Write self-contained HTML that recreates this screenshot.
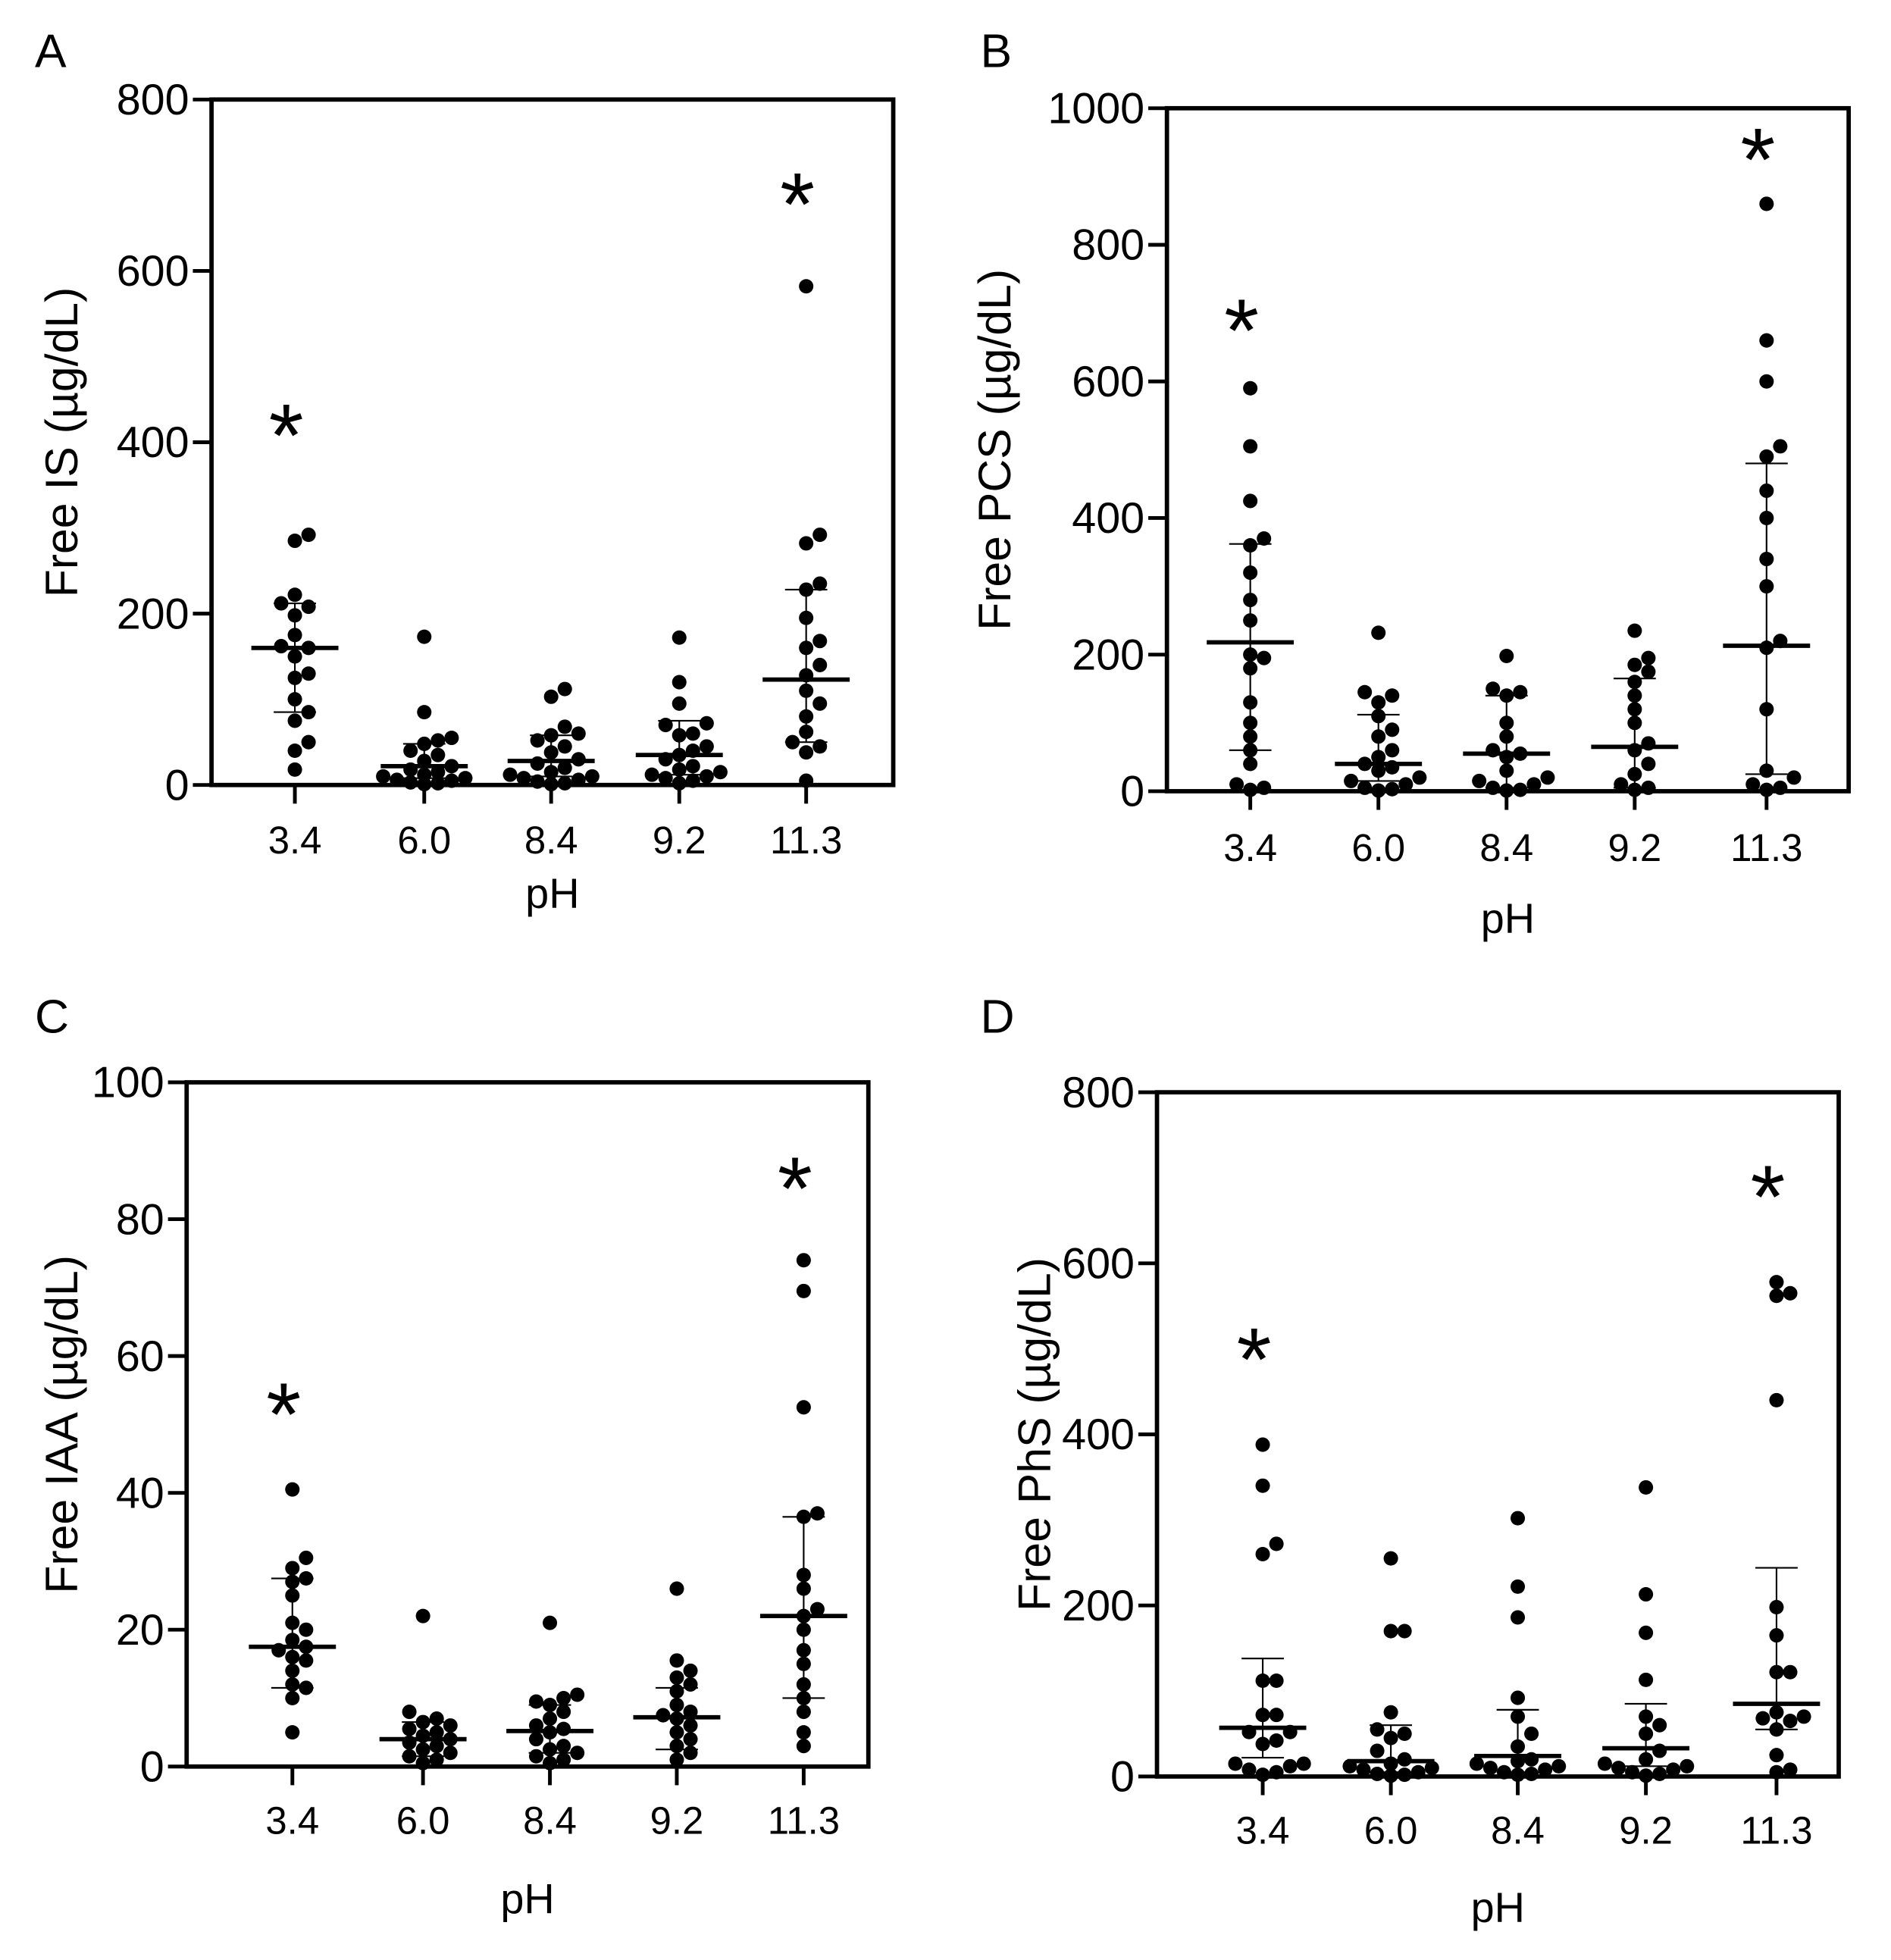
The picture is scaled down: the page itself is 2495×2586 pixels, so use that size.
<!DOCTYPE html>
<html><head><meta charset="utf-8"><style>
html,body{margin:0;padding:0;background:#fff;}
svg{display:block;}
text{font-family:"Liberation Sans",Arial,sans-serif;fill:#000;}
</style></head><body>
<svg id="s" xmlns="http://www.w3.org/2000/svg" width="2495" height="2586" viewBox="0 0 1520 1575.5">
<rect width="1520" height="1575.5" fill="#fff"/>
</svg>
<script>
var S=document.getElementById('s'),NS='http://www.w3.org/2000/svg';
function el(t,a,txt){var e=document.createElementNS(NS,t);for(var k in a)e.setAttribute(k,a[k]);if(txt!=null)e.textContent=txt;S.appendChild(e);return e;}
var panels=[
{L:'A',lx:28,ly:54,x0:170,x1:718,y0:80,y1:631,max:800,step:200,ylab:'Free IS (\u00b5g/dL)',ylx:62,xs:[237,341,443,546,648],tly:686,phy:730,
 g:[{v:[292,285,222,212,208,198,175,160,162,150,130,125,100,85,75,50,40,18],m:160,e:[85,212],a:420},
 {v:[173,85,55,52,48,40,35,28,22,18,15,12,10,8,6,5,3,2,1],m:22,e:[8,48]},
 {v:[112,103,68,60,58,52,45,38,30,25,20,15,12,10,8,6,4,2,1],m:28,e:[10,58]},
 {v:[172,120,95,72,70,60,58,45,40,35,30,22,18,15,12,10,8,5,2],m:35,e:[12,75]},
 {v:[582,292,282,235,228,195,168,160,140,128,110,95,80,62,50,45,38,5],m:123,e:[50,228],a:690}]},
{L:'B',lx:788,ly:54,x0:938,x1:1486,y0:87,y1:636,max:1000,step:200,ylab:'Free PCS (\u00b5g/dL)',ylx:812,xs:[1005,1108,1211,1314,1420],tly:692,phy:750,
 g:[{v:[590,505,425,370,360,320,280,250,200,195,180,130,100,80,60,40,10,5,2],m:218,e:[60,362],a:690},
 {v:[232,145,140,130,110,90,80,60,50,40,35,30,20,15,10,5,3,1],m:40,e:[15,112]},
 {v:[198,150,145,140,100,80,60,55,50,30,20,15,10,5,2,1],m:55,e:[5,140]},
 {v:[235,195,185,175,160,140,120,100,70,60,40,25,10,5,2],m:65,e:[5,165]},
 {v:[860,660,600,505,490,440,400,340,300,220,210,120,30,20,10,5,2],m:213,e:[25,480],a:940}]},
{L:'C',lx:28,ly:830,x0:150,x1:698,y0:870,y1:1420,max:100,step:20,ylab:'Free IAA (\u00b5g/dL)',ylx:62,xs:[235,340,442,544,646],tly:1474,phy:1538,
 g:[{v:[40.5,30.5,29,27.5,27,25,21,20,18.5,17.5,17,16,15.5,14,12,11.5,10,5],m:17.5,e:[11.5,27.5],a:53},
 {v:[22,8,7,6.5,6,5.5,5,4.5,4,3.5,3,2.5,2,1.5,1,0.5],m:4,e:[1.5,6.5]},
 {v:[21,10.5,10,9.5,9,8,7,6,5.5,5,4,3,2.5,2,1.5,1,0.5],m:5.2,e:[2,9]},
 {v:[26,15.5,14,13,12,11,9,8,7.5,7,6,5,4,3,2,1],m:7.2,e:[2.5,11.5]},
 {v:[74,69.5,52.5,37,36.5,28,26,23,22,20,17,15,12,10,8,5,3],m:22,e:[10,36.5],a:86}]},
{L:'D',lx:788,ly:830,x0:930,x1:1478,y0:878,y1:1428,max:800,step:200,ylab:'Free PhS (\u00b5g/dL)',ylx:844,xs:[1015,1118,1220,1323,1428],tly:1482,phy:1545,
 g:[{v:[388,340,272,260,112,112,72,72,52,52,42,38,15,15,12,8,5,2],m:57,e:[22,138],a:500},
 {v:[255,170,170,75,55,50,45,30,20,15,12,10,8,5,3,2,1],m:18,e:[5,60]},
 {v:[302,222,186,92,70,50,35,20,18,15,12,10,8,5,3,2],m:24,e:[5,78]},
 {v:[338,213,168,113,70,60,50,30,20,15,12,10,8,5,3,1],m:33,e:[12,85]},
 {v:[578,565,562,440,198,165,122,122,75,70,68,65,55,25,8,5],m:85,e:[55,244],a:690}]}
];
var labs=['3.4','6.0','8.4','9.2','11.3'];
panels.forEach(function(p){
 var Y=function(v){return p.y1-(v/p.max)*(p.y1-p.y0);};
 el('text',{x:p.lx,y:p.ly,'font-size':38},p.L);
 for(var t=0;t<=p.max+1e-9;t+=p.step){var y=Y(t);
  el('line',{x1:p.x0-15,x2:p.x0,y1:y,y2:y,stroke:'#000','stroke-width':3});
  el('text',{x:p.x0-18,y:y+12,'font-size':35,'text-anchor':'end'},String(Math.round(t)));}
 var cy=(p.y0+p.y1)/2;
 el('text',{x:p.ylx,y:cy,'font-size':37,'text-anchor':'middle',transform:'rotate(-90 '+p.ylx+' '+cy+')'},p.ylab);
 el('text',{x:(p.x0+p.x1)/2,y:p.phy,'font-size':34,'text-anchor':'middle'},'pH');
 p.g.forEach(function(g,i){var cx=p.xs[i];
  el('line',{x1:cx,x2:cx,y1:p.y1,y2:p.y1+15,stroke:'#000','stroke-width':3});
  el('text',{x:cx,y:p.tly,'font-size':31,'text-anchor':'middle'},labs[i]);
  var d=11,placed=[];
  g.v.slice().sort(function(a,b){return a-b;}).forEach(function(v){var y=Y(v);
   var offs=[0];for(var k=1;k<4;k++){offs.push(k*d);offs.push(-k*d);}
   var best=null,bestScore=1e9;
   for(var j=0;j<offs.length;j++){var x=cx+offs[j],mind=1e9;
    for(var q=0;q<placed.length;q++){var dx=placed[q][0]-x,dy=placed[q][1]-y;mind=Math.min(mind,Math.sqrt(dx*dx+dy*dy));}
    if(mind>=d-0.3){best=x;break;}
    var sc=-mind; if(sc<bestScore){bestScore=sc;best=x;}}
   placed.push([best,y]);
  });
  placed.forEach(function(pt){el('circle',{cx:pt[0],cy:pt[1],r:5.8,fill:'#000'});});
  var ya=Y(g.e[0]),yb=Y(g.e[1]);
  el('line',{x1:cx,x2:cx,y1:ya,y2:yb,stroke:'#000','stroke-width':1.3});
  el('line',{x1:cx-17,x2:cx+17,y1:ya,y2:ya,stroke:'#000','stroke-width':1.3});
  el('line',{x1:cx-17,x2:cx+17,y1:yb,y2:yb,stroke:'#000','stroke-width':1.3});
  var ym=Y(g.m);
  el('line',{x1:cx-35,x2:cx+35,y1:ym,y2:ym,stroke:'#000','stroke-width':3.5});
  if(g.a!=null)el('text',{x:cx-7,y:Y(g.a)+33,'font-size':72,'text-anchor':'middle'},'*');
 });
 el('rect',{x:p.x0,y:p.y0,width:p.x1-p.x0,height:p.y1-p.y0,fill:'none',stroke:'#000','stroke-width':3.5});
});
</script>
</body></html>
